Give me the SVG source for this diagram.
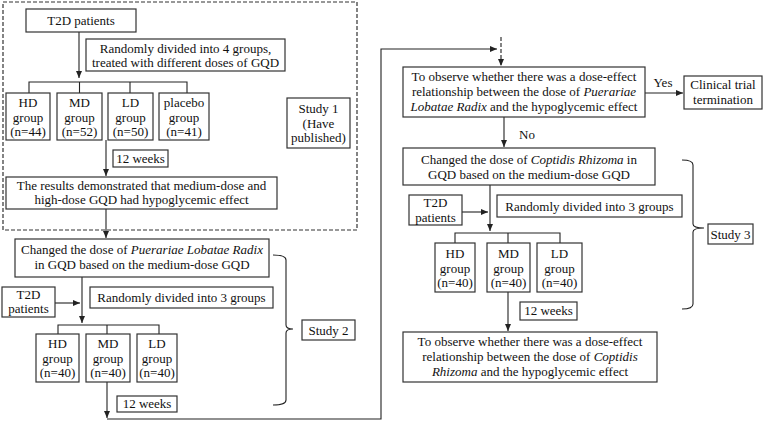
<svg xmlns="http://www.w3.org/2000/svg" width="764" height="422" viewBox="0 0 764 422">
<defs>
<marker id="ah" markerWidth="7" markerHeight="6" refX="7" refY="3" orient="auto" markerUnits="userSpaceOnUse">
<path d="M0,0 L7,3 L0,6 Z" fill="#222"/>
</marker>
<style>
.box{fill:#fff;stroke:#333;stroke-width:1.2}
.ln{fill:none;stroke:#222;stroke-width:1.1}
.dash{fill:none;stroke:#333;stroke-width:1.2;stroke-dasharray:4,2}
text{font-family:"Liberation Serif","Times New Roman",serif;font-size:13px;fill:#111;text-anchor:middle}
.i{font-style:italic}
</style>
</defs>
<rect x="0" y="0" width="764" height="422" fill="#fff"/>
<rect class="dash" x="3" y="2" width="354" height="228"/>

<g id="connectors">
<line class="ln" x1="79" y1="32" x2="79" y2="78" marker-end="url(#ah)"/>
<path class="ln" d="M29,93 V82 H187 V93 M79.5,82 V93 M130,82 V93"/>
<line class="ln" x1="106" y1="140" x2="106" y2="176" marker-end="url(#ah)"/>
<line class="ln" x1="106" y1="209" x2="106" y2="238" marker-end="url(#ah)"/>
<line class="ln" x1="82" y1="277" x2="82" y2="323" marker-end="url(#ah)"/>
<line class="ln" x1="55" y1="303" x2="80" y2="303" marker-end="url(#ah)"/>
<path class="ln" d="M58,334 V325 H159 V334 M107,325 V334"/>
<line class="ln" x1="107" y1="382" x2="107" y2="418" marker-end="url(#ah)"/>
<path class="ln" d="M107,419 H381 V49 H497" marker-end="url(#ah)"/>
<line class="dash" x1="501" y1="37" x2="501" y2="66" marker-end="url(#ah)"/>
<line class="ln" x1="645" y1="93" x2="683" y2="93" marker-end="url(#ah)"/>
<line class="ln" x1="504" y1="117" x2="504" y2="147" marker-end="url(#ah)"/>
<line class="ln" x1="490" y1="185" x2="490" y2="231" marker-end="url(#ah)"/>
<line class="ln" x1="462" y1="212" x2="488" y2="212" marker-end="url(#ah)"/>
<path class="ln" d="M455,243 V233 H560 V243 M508,233 V243"/>
<line class="ln" x1="508" y1="292" x2="508" y2="331" marker-end="url(#ah)"/>
<path class="ln" d="M273,255 Q286,255 286,260 V325 Q286,329 293,329 Q286,329 286,333 V400 Q286,405 273,405"/>
<path class="ln" d="M682,160 Q693,160 693,165 V224 Q693,228 704,228 Q693,228 693,232 V304 Q693,309 682,309"/>
</g>

<g id="t2d1"><rect class="box" x="26" y="9" width="110" height="23"/><text x="81" y="25">T2D patients</text></g>
<g id="rand4"><rect class="box" x="86" y="39" width="199" height="32"/><text x="185.5" y="53">Randomly divided into 4 groups,</text><text x="185.5" y="67">treated with different doses of GQD</text></g>
<g id="hd1"><rect class="box" x="6" y="93" width="44" height="47"/><text x="28" y="107">HD</text><text x="28" y="122">group</text><text x="28" y="136">(n=44)</text></g>
<g id="md1"><rect class="box" x="57" y="93" width="45" height="47"/><text x="79.5" y="107">MD</text><text x="79.5" y="122">group</text><text x="79.5" y="136">(n=52)</text></g>
<g id="ld1"><rect class="box" x="108" y="93" width="45" height="47"/><text x="130.5" y="107">LD</text><text x="130.5" y="122">group</text><text x="130.5" y="136">(n=50)</text></g>
<g id="pl1"><rect class="box" x="159" y="93" width="50" height="47"/><text x="184" y="107">placebo</text><text x="184" y="122">group</text><text x="184" y="136">(n=41)</text></g>
<g id="study1"><rect class="box" x="287" y="98" width="63" height="50"/><text x="318.5" y="113">Study 1</text><text x="318.5" y="128">(Have</text><text x="318.5" y="142">published)</text></g>
<g id="wk1"><rect class="box" x="113" y="150" width="55" height="17"/><text x="140.5" y="163">12 weeks</text></g>
<g id="results"><rect class="box" x="6" y="177" width="271" height="32"/><text x="141.5" y="190">The results demonstrated that medium-dose and</text><text x="141.5" y="204">high-dose GQD had hypoglycemic effect</text></g>

<g id="chg2"><rect class="box" x="15" y="239" width="254" height="38"/><text x="142" y="254">Changed the dose of <tspan class="i">Puerariae Lobatae Radix</tspan></text><text x="142" y="269">in GQD based on the medium-dose GQD</text></g>
<g id="t2d2"><rect class="box" x="2" y="287" width="53" height="30"/><text x="28.5" y="299">T2D</text><text x="28.5" y="313">patients</text></g>
<g id="rand3a"><rect class="box" x="90" y="287" width="183" height="21"/><text x="181.5" y="302">Randomly divided into 3 groups</text></g>
<g id="hd2"><rect class="box" x="36" y="334" width="43" height="48"/><text x="57.5" y="348">HD</text><text x="57.5" y="363">group</text><text x="57.5" y="377">(n=40)</text></g>
<g id="md2"><rect class="box" x="86" y="334" width="44" height="48"/><text x="108" y="348">MD</text><text x="108" y="363">group</text><text x="108" y="377">(n=40)</text></g>
<g id="ld2"><rect class="box" x="137" y="334" width="40" height="48"/><text x="157" y="348">LD</text><text x="157" y="363">group</text><text x="157" y="377">(n=40)</text></g>
<g id="wk2"><rect class="box" x="117" y="396" width="60" height="16"/><text x="147" y="408">12 weeks</text></g>
<g id="study2"><rect class="box" x="302" y="320" width="53" height="20"/><text x="328.5" y="335">Study 2</text></g>

<g id="obs1"><rect class="box" x="403" y="67" width="242" height="50"/><text x="524" y="81">To observe whether there was a dose-effect</text><text x="524" y="96">relationship between the dose of <tspan class="i">Puerariae</tspan></text><text x="524" y="111"><tspan class="i">Lobatae Radix</tspan> and the hypoglycemic effect</text></g>
<g id="yes"><text x="663" y="87">Yes</text></g>
<g id="term"><rect class="box" x="684" y="76" width="78" height="33"/><text x="723" y="89">Clinical trial</text><text x="723" y="104">termination</text></g>
<g id="no"><text x="527" y="139">No</text></g>
<g id="chg3"><rect class="box" x="403" y="148" width="252" height="37"/><text x="529" y="164">Changed the dose of <tspan class="i">Coptidis Rhizoma</tspan> in</text><text x="529" y="179">GQD based on the medium-dose GQD</text></g>
<g id="t2d3"><rect class="box" x="409" y="195" width="53" height="30"/><text x="435.5" y="207">T2D</text><text x="435.5" y="222">patients</text></g>
<g id="rand3b"><rect class="box" x="497" y="195" width="185" height="22"/><text x="589.5" y="211">Randomly divided into 3 groups</text></g>
<g id="hd3"><rect class="box" x="435" y="243" width="40" height="49"/><text x="455" y="258">HD</text><text x="455" y="273">group</text><text x="455" y="287">(n=40)</text></g>
<g id="md3"><rect class="box" x="487" y="243" width="43" height="49"/><text x="508.5" y="258">MD</text><text x="508.5" y="273">group</text><text x="508.5" y="287">(n=40)</text></g>
<g id="ld3"><rect class="box" x="537" y="243" width="45" height="49"/><text x="559.5" y="258">LD</text><text x="559.5" y="273">group</text><text x="559.5" y="287">(n=40)</text></g>
<g id="wk3"><rect class="box" x="520" y="302" width="57" height="18"/><text x="548.5" y="315">12 weeks</text></g>
<g id="study3"><rect class="box" x="708" y="224" width="45" height="20"/><text x="730.5" y="239">Study 3</text></g>
<g id="obs2"><rect class="box" x="403" y="332" width="254" height="50"/><text x="530" y="346">To observe whether there was a dose-effect</text><text x="530" y="361">relationship between the dose of <tspan class="i">Coptidis</tspan></text><text x="530" y="376"><tspan class="i">Rhizoma</tspan> and the hypoglycemic effect</text></g>
</svg>
